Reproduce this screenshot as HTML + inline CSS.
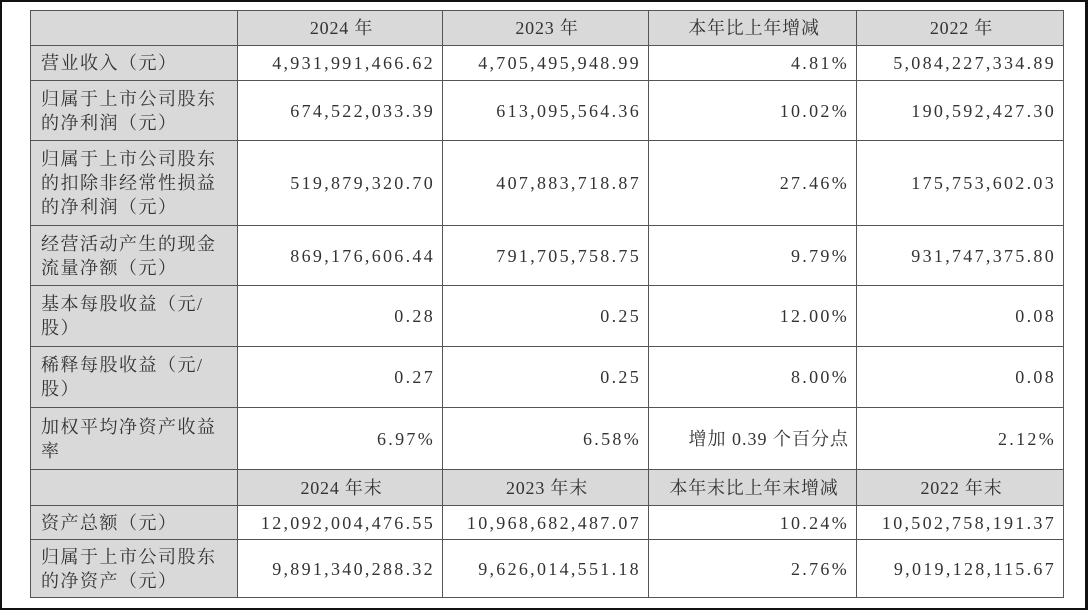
<!DOCTYPE html>
<html><head><meta charset="utf-8"><style>
html,body{margin:0;padding:0;background:#fff;}
body{width:1088px;height:611px;position:relative;overflow:hidden;}
.frame{position:absolute;left:0;top:0;width:1083px;height:606px;border:2px solid #111;border-right-width:3px;box-sizing:content-box;}
table{position:absolute;left:30px;top:10px;border-collapse:collapse;table-layout:fixed;
font-family:"Liberation Serif","Noto Serif CJK SC",serif;font-size:18px;color:#333;}
td{border:1.5px solid #555;padding:0 7px 0 10px;text-align:right;line-height:24px;letter-spacing:2.3px;white-space:nowrap;}
td.h{background:#d9d9d9;text-align:center;letter-spacing:0.8px;}
td.l{background:#d9d9d9;text-align:left;padding-left:10px;letter-spacing:1.5px;}
td.c{letter-spacing:1px;}
</style></head><body>
<div class="frame"></div>
<table>
<colgroup><col style="width:207px"><col style="width:205px"><col style="width:206px"><col style="width:208px"><col style="width:207px"></colgroup>
<tr style="height:35px"><td class="h"></td><td class="h">2024 年</td><td class="h">2023 年</td><td class="h">本年比上年增减</td><td class="h">2022 年</td></tr>
<tr style="height:35px"><td class="l">营业收入（元）</td><td>4,931,991,466.62</td><td>4,705,495,948.99</td><td>4.81%</td><td>5,084,227,334.89</td></tr>
<tr style="height:60px"><td class="l">归属于上市公司股东<br>的净利润（元）</td><td>674,522,033.39</td><td>613,095,564.36</td><td>10.02%</td><td>190,592,427.30</td></tr>
<tr style="height:85px"><td class="l">归属于上市公司股东<br>的扣除非经常性损益<br>的净利润（元）</td><td>519,879,320.70</td><td>407,883,718.87</td><td>27.46%</td><td>175,753,602.03</td></tr>
<tr style="height:60px"><td class="l">经营活动产生的现金<br>流量净额（元）</td><td>869,176,606.44</td><td>791,705,758.75</td><td>9.79%</td><td>931,747,375.80</td></tr>
<tr style="height:61px"><td class="l">基本每股收益（元/<br>股）</td><td>0.28</td><td>0.25</td><td>12.00%</td><td>0.08</td></tr>
<tr style="height:61px"><td class="l">稀释每股收益（元/<br>股）</td><td>0.27</td><td>0.25</td><td>8.00%</td><td>0.08</td></tr>
<tr style="height:62px"><td class="l">加权平均净资产收益<br>率</td><td>6.97%</td><td>6.58%</td><td class="c">增加 0.39 个百分点</td><td>2.12%</td></tr>
<tr style="height:36px"><td class="h"></td><td class="h">2024 年末</td><td class="h">2023 年末</td><td class="h">本年末比上年末增减</td><td class="h">2022 年末</td></tr>
<tr style="height:34px"><td class="l">资产总额（元）</td><td>12,092,004,476.55</td><td>10,968,682,487.07</td><td>10.24%</td><td>10,502,758,191.37</td></tr>
<tr style="height:58px"><td class="l">归属于上市公司股东<br>的净资产（元）</td><td>9,891,340,288.32</td><td>9,626,014,551.18</td><td>2.76%</td><td>9,019,128,115.67</td></tr>
</table>
</body></html>
